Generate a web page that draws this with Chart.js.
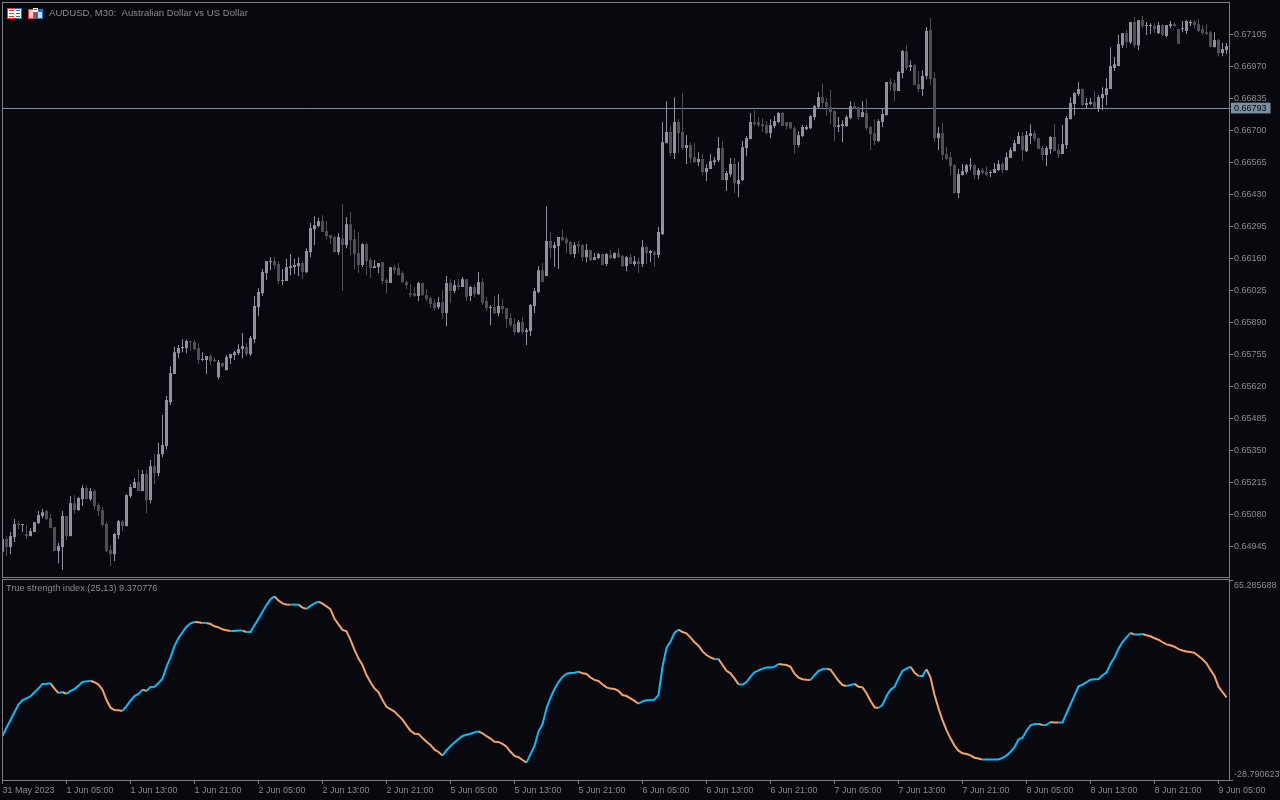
<!DOCTYPE html>
<html>
<head>
<meta charset="utf-8">
<title>AUDUSD M30</title>
<script src="https://cdn.jsdelivr.net/npm/chart.js@4"></script>
<style>
  html, body { margin: 0; padding: 0; background: #08090f; overflow: hidden; }
  canvas { position: absolute; left: 0; display: block; }
  #priceChart { top: 0; }
  #tsiChart { top: 578px; }
</style>
</head>
<body>
<canvas id="priceChart" width="1280" height="578"></canvas>
<canvas id="tsiChart" width="1280" height="222"></canvas>
<script>
// Candles (one entry per 30 minute bar)
const opens = [
0.64921,0.64975,0.64941,0.64983,0.65038,0.65034,0.64996,0.64987,0.65004,0.65042,
0.65072,0.65093,0.65063,0.65025,0.64924,0.64941,0.65072,0.64987,0.65126,0.65097,
0.65143,0.65190,0.65143,0.65177,0.65118,0.65097,0.65038,0.64928,0.64911,0.64991,
0.65050,0.65029,0.65156,0.65190,0.65215,0.65177,0.65249,0.65139,0.65282,0.65253,
0.65333,0.65367,0.65552,0.65671,0.65759,0.65780,0.65780,0.65810,0.65806,0.65780,
0.65730,0.65730,0.65747,0.65730,0.65658,0.65717,0.65687,0.65738,0.65751,0.65759,
0.65776,0.65785,0.65755,0.65818,0.65953,0.66012,0.66097,0.66143,0.66147,0.66135,
0.66063,0.66063,0.66118,0.66122,0.66126,0.66139,0.66101,0.66185,0.66282,0.66295,
0.66316,0.66274,0.66257,0.66249,0.66185,0.66244,0.66215,0.66303,0.66240,0.66181,
0.66131,0.66219,0.66152,0.66118,0.66122,0.66143,0.66067,0.66055,0.66122,0.66118,
0.66097,0.66059,0.66012,0.66012,0.66000,0.66055,0.66004,0.65991,0.65970,0.65953,
0.65974,0.65928,0.66055,0.66021,0.66046,0.66038,0.66071,0.66000,0.66038,0.66008,
0.66059,0.65979,0.65949,0.65953,0.65928,0.65958,0.65949,0.65907,0.65882,0.65848,
0.65890,0.65848,0.65852,0.65958,0.66017,0.66109,0.66084,0.66232,0.66202,0.66211,
0.66249,0.66240,0.66228,0.66177,0.66219,0.66215,0.66164,0.66194,0.66152,0.66160,
0.66177,0.66135,0.66173,0.66160,0.66181,0.66169,0.66126,0.66164,0.66135,0.66147,
0.66135,0.66206,0.66181,0.66185,0.66173,0.66261,0.66645,0.66692,0.66603,0.66734,
0.66692,0.66624,0.66637,0.66586,0.66565,0.66578,0.66523,0.66536,0.66565,0.66573,
0.66624,0.66489,0.66514,0.66557,0.66472,0.66489,0.66624,0.66662,0.66734,0.66734,
0.66725,0.66721,0.66687,0.66717,0.66734,0.66772,0.66734,0.66734,0.66708,0.66637,
0.66675,0.66704,0.66708,0.66755,0.66797,0.66839,0.66818,0.66797,0.66780,0.66713,
0.66717,0.66717,0.66751,0.66801,0.66797,0.66755,0.66772,0.66713,0.66687,0.66654,
0.66734,0.66763,0.66903,0.66898,0.66865,0.66941,0.67033,0.66966,0.66974,0.66894,
0.66873,0.66928,0.67122,0.66919,0.66666,0.66687,0.66599,0.66586,0.66552,0.66434,
0.66510,0.66523,0.66548,0.66552,0.66510,0.66531,0.66523,0.66519,0.66519,0.66531,
0.66557,0.66531,0.66582,0.66611,0.66641,0.66675,0.66611,0.66675,0.66687,0.66666,
0.66624,0.66595,0.66620,0.66671,0.66616,0.66599,0.66637,0.66746,0.66810,0.66852,
0.66873,0.66806,0.66810,0.66818,0.66793,0.66835,0.66848,0.66873,0.66962,0.66970,
0.67058,0.67109,0.67071,0.67156,0.67058,0.67164,0.67139,0.67139,0.67139,0.67109,
0.67143,0.67097,0.67139,0.67147,0.67126,0.67126,0.67118,0.67151,0.67156,0.67147,
0.67126,0.67113,0.67113,0.67050,0.67080,0.67025,0.67038];
const highs = [
0.64975,0.64987,0.65004,0.65059,0.65053,0.65038,0.65034,0.65021,0.65046,0.65093,
0.65101,0.65097,0.65080,0.65025,0.64958,0.65093,0.65072,0.65156,0.65160,0.65152,
0.65202,0.65202,0.65190,0.65185,0.65126,0.65109,0.65050,0.64949,0.65000,0.65055,
0.65055,0.65164,0.65207,0.65232,0.65270,0.65266,0.65266,0.65308,0.65333,0.65380,
0.65498,0.65578,0.65704,0.65785,0.65793,0.65818,0.65814,0.65810,0.65814,0.65801,
0.65763,0.65747,0.65755,0.65742,0.65730,0.65721,0.65751,0.65755,0.65768,0.65797,
0.65844,0.65801,0.65831,0.66000,0.66033,0.66114,0.66147,0.66164,0.66164,0.66147,
0.66114,0.66156,0.66177,0.66156,0.66164,0.66147,0.66202,0.66308,0.66337,0.66329,
0.66341,0.66316,0.66257,0.66253,0.66266,0.66388,0.66333,0.66354,0.66282,0.66270,
0.66223,0.66223,0.66164,0.66152,0.66139,0.66143,0.66076,0.66122,0.66131,0.66139,
0.66105,0.66063,0.66050,0.66038,0.66059,0.66055,0.66029,0.65996,0.65987,0.65996,
0.66025,0.66084,0.66071,0.66067,0.66071,0.66080,0.66071,0.66042,0.66046,0.66101,
0.66076,0.65996,0.65962,0.66000,0.66008,0.65987,0.65949,0.65928,0.65907,0.65899,
0.65911,0.65865,0.65966,0.66034,0.66126,0.66139,0.66379,0.66270,0.66228,0.66249,
0.66282,0.66249,0.66232,0.66228,0.66232,0.66219,0.66219,0.66194,0.66181,0.66181,
0.66177,0.66181,0.66194,0.66185,0.66202,0.66173,0.66169,0.66177,0.66169,0.66164,
0.66236,0.66211,0.66194,0.66190,0.66291,0.66734,0.66822,0.66717,0.66839,0.66746,
0.66856,0.66679,0.66649,0.66645,0.66607,0.66599,0.66557,0.66599,0.66586,0.66671,
0.66654,0.66527,0.66582,0.66582,0.66565,0.66654,0.66675,0.66772,0.66784,0.66755,
0.66751,0.66738,0.66746,0.66759,0.66776,0.66776,0.66734,0.66734,0.66717,0.66696,
0.66721,0.66721,0.66763,0.66806,0.66860,0.66898,0.66835,0.66869,0.66784,0.66755,
0.66742,0.66763,0.66822,0.66818,0.66797,0.66822,0.66831,0.66717,0.66746,0.66746,
0.66789,0.66903,0.66919,0.66911,0.66949,0.67038,0.67059,0.66995,0.66978,0.66949,
0.66953,0.67135,0.67173,0.66945,0.66713,0.66730,0.66628,0.66607,0.66557,0.66536,
0.66557,0.66557,0.66582,0.66557,0.66540,0.66540,0.66548,0.66531,0.66561,0.66573,
0.66565,0.66607,0.66628,0.66658,0.66692,0.66692,0.66696,0.66725,0.66700,0.66666,
0.66633,0.66633,0.66675,0.66725,0.66641,0.66721,0.66759,0.66839,0.66860,0.66903,
0.66877,0.66835,0.66835,0.66865,0.66848,0.66881,0.66919,0.67050,0.67008,0.67101,
0.67109,0.67122,0.67156,0.67177,0.67164,0.67181,0.67156,0.67151,0.67151,0.67156,
0.67147,0.67143,0.67160,0.67156,0.67126,0.67160,0.67164,0.67164,0.67164,0.67168,
0.67143,0.67147,0.67118,0.67113,0.67084,0.67067,0.67067];
const lows = [
0.64921,0.64903,0.64911,0.64962,0.65017,0.65004,0.64975,0.64987,0.65004,0.65038,
0.65063,0.65055,0.65021,0.64924,0.64873,0.64844,0.64970,0.64987,0.65080,0.65093,
0.65114,0.65143,0.65135,0.65101,0.65072,0.65029,0.64920,0.64861,0.64882,0.64975,
0.65008,0.65029,0.65148,0.65190,0.65177,0.65177,0.65084,0.65126,0.65207,0.65240,
0.65320,0.65354,0.65540,0.65671,0.65738,0.65763,0.65759,0.65768,0.65772,0.65713,
0.65725,0.65671,0.65709,0.65721,0.65649,0.65700,0.65687,0.65713,0.65730,0.65751,
0.65738,0.65747,0.65747,0.65801,0.65915,0.66000,0.66067,0.66109,0.66114,0.66050,
0.66046,0.66063,0.66088,0.66093,0.66084,0.66071,0.66097,0.66164,0.66215,0.66291,
0.66270,0.66240,0.66219,0.66185,0.66173,0.66021,0.66202,0.66173,0.66114,0.66097,
0.66122,0.66088,0.66076,0.66118,0.66097,0.66050,0.66012,0.66055,0.66093,0.66088,
0.66055,0.66029,0.65996,0.65996,0.65979,0.66000,0.65979,0.65949,0.65941,0.65945,
0.65903,0.65873,0.65970,0.66012,0.66025,0.66038,0.65979,0.65979,0.65996,0.66004,
0.65962,0.65936,0.65877,0.65924,0.65915,0.65924,0.65865,0.65869,0.65835,0.65844,
0.65839,0.65793,0.65831,0.65928,0.66012,0.66059,0.66084,0.66160,0.66122,0.66114,
0.66232,0.66181,0.66173,0.66160,0.66181,0.66147,0.66143,0.66147,0.66152,0.66156,
0.66131,0.66126,0.66156,0.66156,0.66160,0.66122,0.66105,0.66135,0.66126,0.66097,
0.66122,0.66135,0.66143,0.66122,0.66160,0.66257,0.66645,0.66590,0.66578,0.66603,
0.66616,0.66557,0.66561,0.66561,0.66548,0.66510,0.66485,0.66536,0.66552,0.66565,
0.66489,0.66443,0.66502,0.66434,0.66417,0.66485,0.66590,0.66662,0.66717,0.66713,
0.66692,0.66683,0.66666,0.66708,0.66730,0.66717,0.66704,0.66704,0.66599,0.66628,
0.66671,0.66700,0.66704,0.66742,0.66793,0.66793,0.66759,0.66725,0.66654,0.66692,
0.66649,0.66713,0.66746,0.66789,0.66742,0.66755,0.66700,0.66616,0.66637,0.66649,
0.66713,0.66763,0.66865,0.66822,0.66865,0.66919,0.66953,0.66949,0.66890,0.66860,
0.66843,0.66915,0.66890,0.66649,0.66616,0.66573,0.66573,0.66514,0.66434,0.66413,
0.66510,0.66514,0.66531,0.66493,0.66493,0.66514,0.66506,0.66502,0.66519,0.66527,
0.66519,0.66531,0.66582,0.66611,0.66641,0.66569,0.66607,0.66641,0.66654,0.66620,
0.66573,0.66548,0.66599,0.66611,0.66582,0.66599,0.66620,0.66746,0.66763,0.66843,
0.66801,0.66793,0.66806,0.66793,0.66776,0.66784,0.66806,0.66873,0.66949,0.66970,
0.67046,0.67046,0.67063,0.67046,0.67037,0.67130,0.67101,0.67105,0.67109,0.67105,
0.67097,0.67092,0.67130,0.67135,0.67063,0.67113,0.67105,0.67139,0.67130,0.67113,
0.67101,0.67101,0.67050,0.67050,0.67012,0.67012,0.67021];
const closes = [
0.64975,0.64941,0.64987,0.65038,0.65034,0.65038,0.64987,0.65008,0.65046,0.65076,
0.65088,0.65059,0.65021,0.64924,0.64945,0.65072,0.64987,0.65126,0.65097,0.65148,
0.65190,0.65143,0.65177,0.65114,0.65093,0.65034,0.64924,0.64911,0.64996,0.65050,
0.65029,0.65160,0.65194,0.65215,0.65177,0.65249,0.65139,0.65282,0.65253,0.65333,
0.65371,0.65561,0.65675,0.65763,0.65780,0.65785,0.65810,0.65806,0.65776,0.65730,
0.65734,0.65747,0.65725,0.65725,0.65721,0.65704,0.65742,0.65755,0.65763,0.65776,
0.65789,0.65755,0.65822,0.65958,0.66017,0.66101,0.66147,0.66147,0.66131,0.66063,
0.66067,0.66122,0.66126,0.66131,0.66139,0.66101,0.66190,0.66287,0.66299,0.66316,
0.66270,0.66253,0.66244,0.66185,0.66249,0.66215,0.66303,0.66236,0.66177,0.66131,
0.66219,0.66147,0.66118,0.66126,0.66139,0.66063,0.66055,0.66122,0.66109,0.66088,
0.66059,0.66046,0.66004,0.66000,0.66055,0.66004,0.65987,0.65966,0.65949,0.65974,
0.65928,0.66055,0.66021,0.66046,0.66038,0.66071,0.65996,0.66038,0.66008,0.66059,
0.65970,0.65949,0.65953,0.65928,0.65958,0.65945,0.65903,0.65877,0.65848,0.65890,
0.65848,0.65856,0.65962,0.66021,0.66109,0.66059,0.66232,0.66202,0.66215,0.66249,
0.66236,0.66223,0.66177,0.66215,0.66211,0.66164,0.66194,0.66152,0.66164,0.66177,
0.66131,0.66177,0.66160,0.66181,0.66164,0.66126,0.66164,0.66135,0.66147,0.66135,
0.66206,0.66181,0.66190,0.66173,0.66270,0.66649,0.66692,0.66603,0.66734,0.66687,
0.66624,0.66637,0.66582,0.66565,0.66578,0.66523,0.66540,0.66569,0.66573,0.66624,
0.66489,0.66519,0.66557,0.66476,0.66489,0.66628,0.66666,0.66734,0.66725,0.66721,
0.66717,0.66687,0.66721,0.66738,0.66772,0.66717,0.66717,0.66708,0.66637,0.66679,
0.66713,0.66713,0.66759,0.66801,0.66839,0.66814,0.66797,0.66776,0.66713,0.66721,
0.66725,0.66755,0.66801,0.66793,0.66755,0.66776,0.66708,0.66683,0.66654,0.66738,
0.66768,0.66903,0.66894,0.66865,0.66945,0.67033,0.66962,0.66974,0.66890,0.66873,
0.66928,0.67118,0.66915,0.66666,0.66687,0.66595,0.66578,0.66548,0.66434,0.66514,
0.66527,0.66552,0.66552,0.66510,0.66531,0.66519,0.66510,0.66523,0.66536,0.66557,
0.66531,0.66586,0.66616,0.66645,0.66675,0.66616,0.66679,0.66687,0.66662,0.66620,
0.66595,0.66624,0.66671,0.66611,0.66599,0.66641,0.66751,0.66814,0.66856,0.66873,
0.66806,0.66814,0.66818,0.66797,0.66839,0.66852,0.66877,0.66970,0.66978,0.67063,
0.67109,0.67071,0.67156,0.67058,0.67164,0.67139,0.67143,0.67143,0.67126,0.67143,
0.67101,0.67143,0.67147,0.67139,0.67063,0.67130,0.67160,0.67156,0.67143,0.67118,
0.67109,0.67105,0.67050,0.67080,0.67025,0.67042,0.67054];

// True strength index, same bars
const tsiValues = [
-8.1,-4.2,-0.6,3.2,6.7,8.8,9.6,10.6,12.5,14.3,
16.4,16.5,16.7,14.2,12.1,12.6,11.7,13.1,14.0,15.6,
17.3,17.6,17.9,17.2,16.1,13.7,8.8,5.2,4.1,4.0,
3.7,6.0,8.5,10.7,11.7,13.7,13.1,15.0,15.1,16.8,
18.9,24.4,28.9,34.2,38.0,40.7,43.3,44.9,45.5,45.4,
45.1,45.1,44.6,43.5,43.0,42.1,41.6,41.3,41.3,41.5,
41.5,40.8,40.8,44.0,47.0,50.4,53.5,56.2,57.6,55.6,
54.3,53.8,53.7,53.7,53.7,52.3,51.7,53.1,54.3,55.1,
54.2,52.9,51.5,47.0,44.4,41.8,41.1,37.1,32.4,28.3,
25.3,20.6,17.2,14.3,12.5,8.8,5.6,4.5,3.4,1.5,
-0.4,-3.1,-5.6,-7.0,-7.1,-9.0,-10.8,-12.3,-14.5,-15.6,
-17.3,-14.8,-12.8,-11.1,-9.5,-8.1,-7.5,-7.0,-6.4,-5.9,
-6.8,-8.2,-9.3,-10.8,-10.9,-11.8,-13.1,-15.5,-17.5,-18.1,
-19.4,-20.6,-16.6,-12.8,-6.0,-2.6,4.9,9.9,14.0,17.3,
19.7,21.2,21.5,21.7,22.2,21.4,21.1,19.4,18.3,17.8,
16.1,14.8,14.2,14.0,13.1,11.2,10.7,9.6,8.4,7.1,
8.2,8.7,8.8,9.0,11.2,24.5,33.3,36.3,40.5,41.9,
40.8,40.2,38.2,36.0,34.4,31.7,30.0,28.9,28.1,28.1,
25.3,22.6,21.4,19.0,16.1,16.1,17.3,19.8,21.9,22.8,
23.6,24.1,24.1,24.4,25.8,25.5,25.3,24.5,21.2,19.4,
18.6,18.4,18.3,20.5,22.5,23.3,23.6,23.1,20.5,17.9,
15.9,15.4,15.9,16.4,15.1,14.8,12.0,8.5,5.4,5.1,
6.5,10.7,13.7,15.0,19.0,22.6,23.6,24.5,21.7,20.1,
20.1,23.3,19.5,11.2,4.9,-0.6,-5.3,-9.2,-12.6,-15.0,
-16.2,-16.6,-17.2,-18.3,-18.7,-19.2,-19.2,-19.2,-19.2,-19.1,
-18.4,-17.3,-15.5,-13.3,-9.7,-8.9,-5.6,-3.1,-2.4,-2.4,
-2.9,-2.8,-1.5,-1.7,-1.8,-1.8,2.6,6.8,11.0,15.3,
16.1,17.2,18.4,18.6,18.7,20.5,21.7,25.9,28.8,33.0,
36.1,38.3,40.4,39.6,39.7,39.9,39.3,38.8,37.9,37.2,
36.0,35.0,34.6,33.9,32.8,32.1,31.7,31.4,31.0,29.5,
28.0,26.1,23.0,20.1,15.1,12.6,10.1];

// Axis labels
const priceTicks = [0.67105,0.66970,0.66835,0.66700,0.66565,0.66430,0.66295,0.66160,0.66025,0.65890,0.65755,0.65620,0.65485,0.65350,0.65215,0.65080,0.64945];
const lastPrice = 0.66793;
const tsiTicks = [65.285688, -28.790623];
const timeTicks = [0,16,32,48,64,80,96,112,128,144,160,176,192,208,224,240,256,272,288,304];
const timeLabels = ["31 May 2023","1 Jun 05:00","1 Jun 13:00","1 Jun 21:00","2 Jun 05:00","2 Jun 13:00","2 Jun 21:00","5 Jun 05:00","5 Jun 13:00","5 Jun 21:00","6 Jun 05:00","6 Jun 13:00","6 Jun 21:00","7 Jun 05:00","7 Jun 13:00","7 Jun 21:00","8 Jun 05:00","8 Jun 13:00","8 Jun 21:00","9 Jun 05:00"];

const BG = '#08090f';
const FRAME = '#7e7e86';
const TEXT = '#8a8a8e';
const UP = '#9191a0';
const DOWN = '#505054';
const LINE_UP = '#00bfff';
const LINE_DOWN = '#f4a460';
const LAST = '#7c8fa0';
const FONT = { family: '"Liberation Sans"', size: 9 };

Chart.defaults.font.family = FONT.family;
Chart.defaults.font.size = FONT.size;

// One bar every 4px, first bar centred on x=2.5
const xMin = 0.125;
const xMax = 306.625;
const candleColor = ctx => closes[ctx.dataIndex] >= opens[ctx.dataIndex] ? UP : DOWN;

// Frame, background and the small text/icons that sit inside each panel
const panelPlugin = {
    id: 'panel',
    beforeDraw(chart, args, opts) {
        const c = chart.ctx;
        const a = chart.chartArea;
        c.save();
        c.fillStyle = BG;
        c.fillRect(0, 0, chart.width, chart.height);
        c.strokeStyle = FRAME;
        c.lineWidth = 1;
        c.strokeRect(a.left - 0.5, a.top - 0.5, a.right - a.left + 1, a.bottom - a.top + 1);
        c.restore();
    },
    afterDraw(chart, args, opts) {
        const c = chart.ctx;
        c.save();
        c.font = opts.size + 'px ' + FONT.family;
        c.fillStyle = TEXT;
        c.textBaseline = 'middle';
        c.fillText(opts.text, opts.x, opts.y);
        if (opts.icons) drawIcons(c);
        c.restore();
    }
};

function drawIcons(c) {
    // list icon
    c.fillStyle = '#ffffff';
    c.fillRect(8, 9, 13, 10);
    c.fillStyle = '#e03c32';
    c.fillRect(8, 8, 7, 1); c.fillRect(7, 8, 1, 11); c.fillRect(8, 18, 7, 1);
    c.fillRect(9, 10, 5, 1); c.fillRect(9, 13, 5, 1); c.fillRect(9, 16, 5, 1);
    c.fillStyle = '#1e6fc0';
    c.fillRect(15, 8, 7, 1); c.fillRect(21, 8, 1, 11); c.fillRect(15, 18, 7, 1);
    c.fillRect(16, 10, 4, 1); c.fillRect(16, 13, 4, 1); c.fillRect(16, 16, 4, 1);
    // floppy-like icon
    c.fillStyle = '#e03c32';
    c.fillRect(28, 9, 8, 10);
    c.fillStyle = '#fbd5cf';
    c.fillRect(29, 10, 4, 8);
    c.fillStyle = '#1e6fc0';
    c.fillRect(36, 9, 7, 10);
    c.fillStyle = '#bfe3f7';
    c.fillRect(38, 12, 4, 6);
    c.fillStyle = '#ffffff';
    c.fillRect(33, 8, 5, 4);
    c.fillStyle = '#555555';
    c.fillRect(34, 9, 3, 1);
}

const noChrome = {
    legend: { display: false },
    tooltip: { enabled: false }
};

// the scales must not push the plot area in for their labels
const noScalePadding = s => {
    s.paddingTop = 0;
    s.paddingBottom = 0;
    s.paddingLeft = 0;
    s.paddingRight = 0;
};

// Price panel
new Chart(document.getElementById('priceChart').getContext('2d'), {
    type: 'bar',
    plugins: [panelPlugin],
    data: {
        datasets: [
            {
                label: 'wicks',
                data: highs.map((h, i) => ({ x: i, y: [lows[i], h] })),
                backgroundColor: candleColor,
                grouped: false,
                barPercentage: 1,
                maxBarThickness: 1,
                minBarLength: 1,
                order: 2
            },
            {
                label: 'bodies',
                data: opens.map((o, i) => ({ x: i, y: [Math.min(o, closes[i]), Math.max(o, closes[i])] })),
                backgroundColor: candleColor,
                grouped: false,
                barPercentage: 1,
                maxBarThickness: 3,
                minBarLength: 1,
                order: 1
            }
        ]
    },
    options: {
        responsive: false,
        animation: false,
        devicePixelRatio: 1,
        events: [],
        layout: { padding: { left: 3, top: 3, right: 0, bottom: 1 } },
        plugins: {
            ...noChrome,
            panel: { text: 'AUDUSD, M30:  Australian Dollar vs US Dollar', x: 49, y: 13.5, size: 9.6, icons: true }
        },
        scales: {
            x: { type: 'linear', min: xMin, max: xMax, offset: false, display: false, grid: { offset: false } },
            y: {
                position: 'right',
                min: 0.67105 - 542.9 * 0.0000421875,
                max: 0.67105 + 31.1 * 0.0000421875,
                afterFit: s => { s.width = 51; noScalePadding(s); },
                afterBuildTicks: s => { s.ticks = priceTicks.concat(lastPrice).map(v => ({ value: v })); },
                border: { display: false },
                grid: {
                    drawOnChartArea: true,
                    tickLength: 4,
                    color: ctx => ctx.tick && ctx.tick.value === lastPrice ? LAST : 'rgba(0,0,0,0)',
                    tickColor: FRAME
                },
                ticks: {
                    autoSkip: false,
                    padding: 1,
                    color: ctx => ctx.tick.value === lastPrice ? '#06090d' : TEXT,
                    showLabelBackdrop: ctx => ctx.tick.value === lastPrice,
                    backdropColor: LAST,
                    backdropPadding: { left: 3, right: 4, top: 0, bottom: 0 },
                    callback: v => v.toFixed(5)
                }
            }
        }
    }
});

// True strength index panel
new Chart(document.getElementById('tsiChart').getContext('2d'), {
    type: 'line',
    plugins: [panelPlugin],
    data: {
        datasets: [{
            label: 'True strength index (25,13)',
            data: tsiValues.map((v, i) => ({ x: i, y: v })),
            borderWidth: 2,
            borderColor: LINE_UP,
            pointRadius: 0,
            tension: 0,
            segment: {
                borderColor: ctx => ctx.p1.parsed.y >= ctx.p0.parsed.y ? LINE_UP : LINE_DOWN
            }
        }]
    },
    options: {
        responsive: false,
        animation: false,
        devicePixelRatio: 1,
        events: [],
        layout: { padding: { left: 3, top: 2, right: 0, bottom: 0 } },
        plugins: {
            ...noChrome,
            panel: { text: 'True strength index (25,13) 9.370776', x: 6, y: 10.5, size: 9.2 }
        },
        scales: {
            x: {
                type: 'linear',
                min: xMin,
                max: xMax,
                afterFit: s => { s.height = 20; noScalePadding(s); },
                afterBuildTicks: s => { s.ticks = timeTicks.map(v => ({ value: v })); },
                border: { display: false },
                grid: { drawOnChartArea: false, tickLength: 4, tickColor: FRAME },
                ticks: {
                    autoSkip: false,
                    maxRotation: 0,
                    minRotation: 0,
                    align: 'start',
                    padding: 1,
                    color: TEXT,
                    callback: v => timeLabels[timeTicks.indexOf(v)]
                }
            },
            y: {
                position: 'right',
                min: tsiTicks[1],
                max: tsiTicks[0],
                afterFit: s => { s.width = 51; noScalePadding(s); },
                afterBuildTicks: s => { s.ticks = tsiTicks.map(v => ({ value: v })); },
                border: { display: false },
                grid: { drawOnChartArea: false, tickLength: 4, tickColor: FRAME },
                ticks: {
                    autoSkip: false,
                    padding: 1,
                    color: TEXT,
                    // keep the two labels inside the panel height
                    callback: v => v === tsiTicks[0] ? ['', v.toFixed(6)] : [v.toFixed(6), '']
                }
            }
        }
    }
});
</script>
</body>
</html>
